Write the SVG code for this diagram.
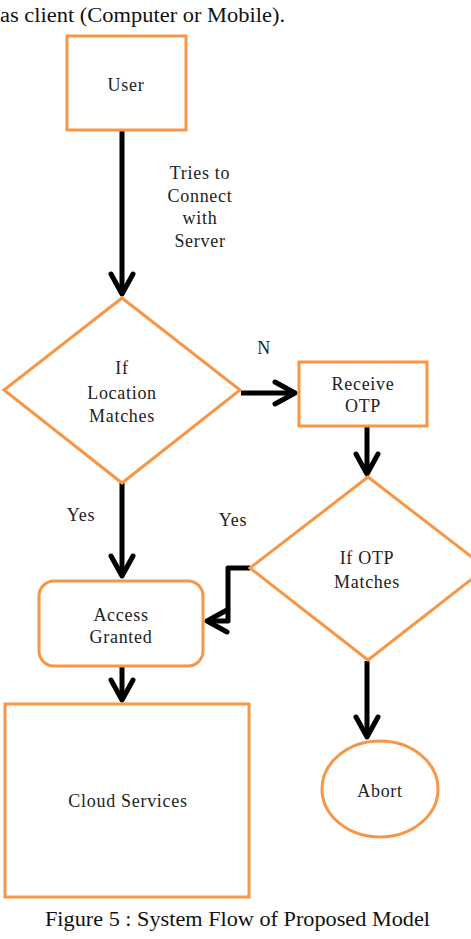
<svg xmlns="http://www.w3.org/2000/svg" width="471" height="939" viewBox="0 0 471 939">
<style>
.n{fill:#fff;stroke:#F79646;stroke-width:3}
.t{font-family:"Liberation Serif",serif;font-size:18px;fill:#222;text-anchor:middle;letter-spacing:0.7px}
.c{fill:none;stroke:#000;stroke-width:5;stroke-linejoin:round}
.cap{font-family:"Liberation Serif",serif;fill:#111}
</style>
<defs>
<marker id="ah" markerUnits="userSpaceOnUse" viewBox="-26 -16 30 32" refX="0" refY="0" markerWidth="30" markerHeight="32" orient="auto" overflow="visible">
<path d="M-20,-11 L0,0 L-20,11" fill="none" stroke="#000" stroke-width="5" stroke-linejoin="round" stroke-linecap="round"/>
</marker>
</defs>
<text class="cap" x="0" y="22" font-size="20" textLength="285" lengthAdjust="spacingAndGlyphs">as client (Computer or Mobile).</text>
<g id="connectors">
<path class="c" d="M122,130 L122,294" marker-end="url(#ah)"/>
<path class="c" d="M241,393 L295,393" marker-end="url(#ah)"/>
<path class="c" d="M367,426 L367,474" marker-end="url(#ah)"/>
<path class="c" d="M122,483 L122,576" marker-end="url(#ah)"/>
<path class="c" d="M250,568 L228,568 L228,621 L207,621" marker-end="url(#ah)"/>
<path class="c" d="M122,666 L122,700" marker-end="url(#ah)"/>
<path class="c" d="M367,661 L367,737" marker-end="url(#ah)"/>
<text class="t" x="200" y="179">Tries to</text>
<text class="t" x="200" y="202">Connect</text>
<text class="t" x="200" y="224">with</text>
<text class="t" x="200" y="247">Server</text>
<text class="t" x="264" y="354">N</text>
<text class="t" x="81" y="521">Yes</text>
<text class="t" x="233" y="526">Yes</text>
</g>
<g id="user">
<rect class="n" x="67" y="36" width="119" height="94"/>
<text class="t" x="126" y="91">User</text>
</g>
<g id="location">
<polygon class="n" points="122,298 240,390 122,483 4,390"/>
<text class="t" x="122" y="374">If</text>
<text class="t" x="122" y="399">Location</text>
<text class="t" x="122" y="422">Matches</text>
</g>
<g id="receive">
<rect class="n" x="299" y="362" width="128" height="64"/>
<text class="t" x="363" y="390">Receive</text>
<text class="t" x="363" y="412">OTP</text>
</g>
<g id="otp">
<polygon class="n" points="368,477 486,568 368,660 250,568"/>
<text class="t" x="367" y="564">If OTP</text>
<text class="t" x="367" y="588">Matches</text>
</g>
<g id="access">
<rect class="n" x="39" y="581" width="164" height="85" rx="15" ry="15"/>
<text class="t" x="121" y="621">Access</text>
<text class="t" x="121" y="643">Granted</text>
</g>
<g id="cloud">
<rect class="n" x="5" y="704" width="244" height="193"/>
<text class="t" x="128" y="807">Cloud Services</text>
</g>
<g id="abort">
<ellipse class="n" cx="380" cy="789" rx="58" ry="48"/>
<text class="t" x="380" y="797">Abort</text>
</g>
<text class="cap" x="45" y="926" font-size="21" textLength="385" lengthAdjust="spacingAndGlyphs">Figure 5 : System Flow of Proposed Model</text>
</svg>
